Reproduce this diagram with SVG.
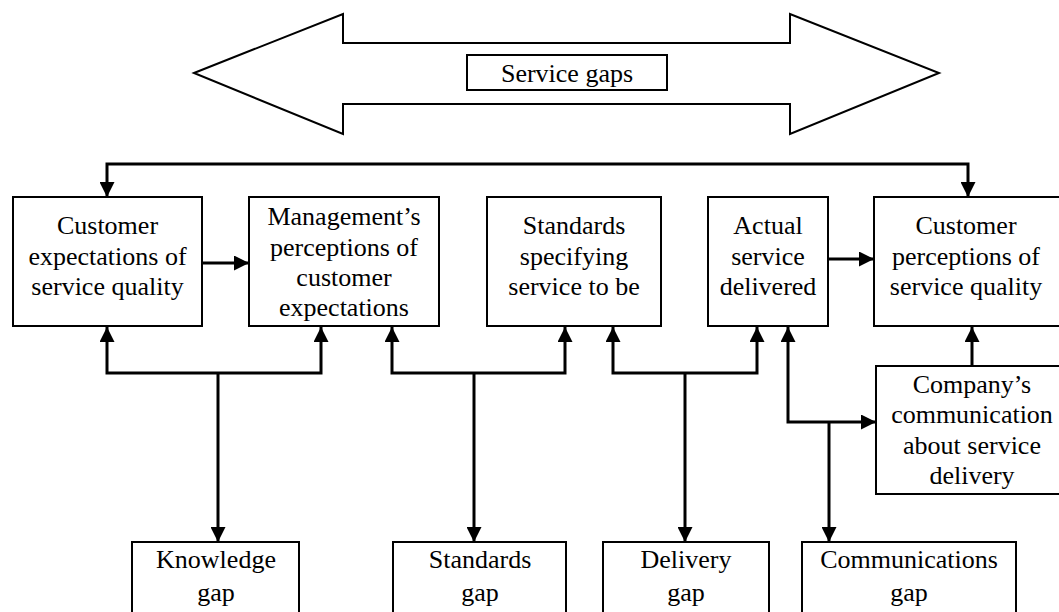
<svg xmlns="http://www.w3.org/2000/svg" width="1059" height="612" viewBox="0 0 1059 612">
<style>
.box{fill:#fff;stroke:#000;stroke-width:2}
.t{font-family:"Liberation Serif","Times New Roman",serif;font-size:26px;fill:#000;text-anchor:middle}
.c{fill:none;stroke:#000;stroke-width:3}
.a2{marker-start:url(#ah);marker-end:url(#ah)}
.a1{marker-end:url(#ah)}
</style>
<defs>
<marker id="ah" viewBox="0 0 10 10" refX="10" refY="5" markerUnits="userSpaceOnUse" markerWidth="15" markerHeight="15" orient="auto-start-reverse">
<path d="M0,0 L10,5 L0,10 Z" fill="#000"/>
</marker>
</defs>
<rect width="1059" height="612" fill="#fff"/>
<g id="service-gaps">
<polygon points="194,73 343,14 343,43 790,43 790,14 939,73 790,134 790,104 343,104 343,134" fill="#fff" stroke="#000" stroke-width="2"/>
<rect class="box" x="467" y="55" width="200" height="35"/>
<text class="t" x="567" y="81.5">Service gaps</text>
</g>
<g id="connectors">
<path class="c a2" d="M107,197 V164 H968 V197"/>
<path class="c a1" d="M202,263 H249"/>
<path class="c a1" d="M828,259 H874"/>
<path class="c a2" d="M107,327 V373 H321 V327"/>
<path class="c a1" d="M218,373 V542"/>
<path class="c a2" d="M392,327 V373 H565 V327"/>
<path class="c a1" d="M474,373 V542"/>
<path class="c a2" d="M613,327 V373 H757 V327"/>
<path class="c a1" d="M685,373 V542"/>
<path class="c a2" d="M788,327 V422 H876"/>
<path class="c a1" d="M829,422 V542"/>
<path class="c a1" d="M972,366 V327"/>
</g>
<g id="customer-expectations">
<rect class="box" x="13" y="197" width="189" height="129"/>
<text class="t"><tspan x="107.5" y="234">Customer</tspan><tspan x="107.5" y="265">expectations of</tspan><tspan x="107.5" y="295">service quality</tspan></text>
</g>
<g id="management-perceptions">
<rect class="box" x="249" y="197" width="190" height="129"/>
<text class="t"><tspan x="344" y="225">Management’s</tspan><tspan x="344" y="255.5">perceptions of</tspan><tspan x="344" y="286">customer</tspan><tspan x="344" y="316">expectations</tspan></text>
</g>
<g id="standards">
<rect class="box" x="487" y="197" width="174" height="129"/>
<text class="t"><tspan x="574" y="234">Standards</tspan><tspan x="574" y="265">specifying</tspan><tspan x="574" y="295">service to be</tspan></text>
</g>
<g id="actual-service">
<rect class="box" x="708" y="197" width="120" height="129"/>
<text class="t"><tspan x="768" y="234">Actual</tspan><tspan x="768" y="265">service</tspan><tspan x="768" y="295">delivered</tspan></text>
</g>
<g id="customer-perceptions">
<rect class="box" x="874" y="197" width="190" height="129"/>
<text class="t"><tspan x="966" y="234">Customer</tspan><tspan x="966" y="265">perceptions of</tspan><tspan x="966" y="295">service quality</tspan></text>
</g>
<g id="company-communication">
<rect class="box" x="876" y="366" width="190" height="128"/>
<text class="t"><tspan x="972" y="393">Company’s</tspan><tspan x="972" y="423">communication</tspan><tspan x="972" y="453.5">about service</tspan><tspan x="972" y="484">delivery</tspan></text>
</g>
<g id="knowledge-gap">
<rect class="box" x="132" y="542" width="167" height="80"/>
<text class="t"><tspan x="216" y="568">Knowledge</tspan><tspan x="216" y="601">gap</tspan></text>
</g>
<g id="standards-gap">
<rect class="box" x="393" y="542" width="173" height="80"/>
<text class="t"><tspan x="480" y="568">Standards</tspan><tspan x="480" y="601">gap</tspan></text>
</g>
<g id="delivery-gap">
<rect class="box" x="603" y="542" width="166" height="80"/>
<text class="t"><tspan x="686" y="568">Delivery</tspan><tspan x="686" y="601">gap</tspan></text>
</g>
<g id="communications-gap">
<rect class="box" x="802" y="542" width="214" height="80"/>
<text class="t"><tspan x="909" y="568">Communications</tspan><tspan x="909" y="601">gap</tspan></text>
</g>
</svg>
